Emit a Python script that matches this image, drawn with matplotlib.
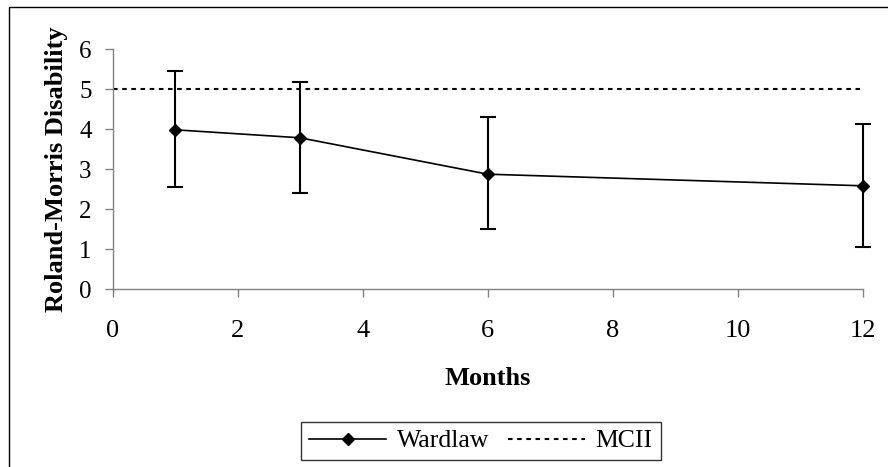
import matplotlib
matplotlib.use("Agg")
import matplotlib.pyplot as plt
from matplotlib.patches import Rectangle

months = [1, 3, 6, 12]
wardlaw = [3.98, 3.78, 2.87, 2.58]
err_low = [1.44, 1.39, 1.38, 1.52]
err_high = [1.48, 1.39, 1.44, 1.54]
mcii = 5.0
xticks = [0, 2, 4, 6, 8, 10, 12]
yticks = [0, 1, 2, 3, 4, 5, 6]

plt.rcParams['font.family'] = ['Liberation Serif', 'DejaVu Serif']

W, H = 888, 467
fig = plt.figure(figsize=(W / 100, H / 100), dpi=100)
fig.patches.append(Rectangle((8.5 / W, -2 / H), 890 / W, 462 / H, transform=fig.transFigure,
                             fill=False, edgecolor='black', linewidth=1.0))

ax = fig.add_axes([112.5 / W, 1 - 289 / H, (863 - 112.5) / W, (289 - 49) / H])

ax.errorbar(months, wardlaw, yerr=[err_low, err_high], fmt='none', ecolor='black',
            elinewidth=1.5, capsize=5.5, capthick=1.5, zorder=3, clip_on=False)
ax.plot(months, wardlaw, color='black', linewidth=1.2, marker='D', markersize=6.5,
        label='Wardlaw', zorder=4, clip_on=False)
ax.axhline(mcii, color='black', linestyle=(0, (2.2, 2.2)), linewidth=1.5, label='MCII')

ax.set_xlim(0, 12)
ax.set_ylim(0, 6)
ax.set_xticks(xticks)
ax.set_yticks(yticks)
for s in ['top', 'right']:
    ax.spines[s].set_visible(False)
for s in ['left', 'bottom']:
    ax.spines[s].set_color('#808080')
    ax.spines[s].set_linewidth(1.0)
ax.tick_params(axis='both', direction='out', length=6, width=1.0, color='#808080',
               labelcolor='black')
ax.tick_params(axis='x', pad=16, labelsize=19)
ax.tick_params(axis='y', pad=9, labelsize=18)

ax.set_xlabel('Months', fontsize=19, fontweight='bold', labelpad=18)
ax.set_ylabel('Roland-Morris Disability', fontsize=19, fontweight='bold', labelpad=8)

leg = ax.legend(loc='center', bbox_to_anchor=(481 / W, 1 - 441 / H),
                bbox_transform=fig.transFigure, ncol=2, frameon=True, fancybox=False,
                edgecolor='black', fontsize=18.5, handlelength=3.0, handletextpad=0.4,
                columnspacing=0.75, borderpad=0.3, borderaxespad=0)
leg.get_frame().set_linewidth(1.0)

fig.savefig('out.png', dpi=100)
